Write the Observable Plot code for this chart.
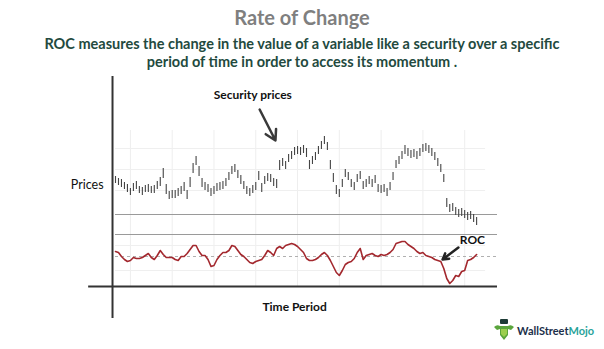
<!DOCTYPE html>
<html>
<head>
<meta charset="utf-8">
<script src="https://cdn.jsdelivr.net/npm/d3@7"></script>
<script src="https://cdn.jsdelivr.net/npm/@observablehq/plot@0.6"></script>
<style>
  html, body { margin: 0; padding: 0; background: #fff; }
  body { width: 604px; height: 349px; position: relative; overflow: hidden; font-family: Lato, "Open Sans", sans-serif; }
  #title { position: absolute; left: 0; width: 604px; top: 3px; text-align: center; font-size: 20px; font-weight: 700; color: #7f7f7f; line-height: 28px; }
  #subtitle { position: absolute; left: 0; width: 604px; top: 35px; text-align: center; font-size: 14.5px; font-weight: 700; color: #234a3e; line-height: 18px; }
  .layer { position: absolute; left: 0; top: 72px; }
  #logo { position: absolute; left: 492px; top: 318px; height: 24px; display: flex; align-items: center; font-weight: 700; font-size: 11px; }
</style>
</head>
<body>
<div id="title">Rate of Change</div>
<div id="subtitle">ROC measures the change in the value of a variable like a security over a specific<br>period of time in order to access its momentum .</div>
<div id="chartA" class="layer"></div>
<div id="chartB" class="layer"></div>
<div id="logo">
  <svg width="24" height="24" viewBox="0 0 24 24">
    <rect x="8" y="1" width="8" height="5" rx="1" fill="#1d3b36"/>
    <path d="M2 9 Q5 6 8 8 L16 8 Q19 6 22 9 L19 12 L16 11 L16 17 L12 22 L8 17 L8 11 L5 12 Z" fill="#5aa53c"/>
    <path d="M9 11 L15 11 L15 16 L12 19 L9 16 Z" fill="#9ccf4e"/>
  </svg>
  <span style="margin-left:1px;color:#1c2f4a">WallStreet</span><span style="color:#2aa39a">Mojo</span>
</div>
<script>
// ---- data ----
const priceHigh = [49,48,47.5,46,45,43,45.5,46.5,44,43.5,44.5,45,44,44.5,46.5,48.5,53,45,41.5,42,42,43,44,46,42,48.5,55.5,59,54,48,46,45,43,44,45.5,46,46.5,48,51,54,55,52,49.5,46.5,44,43,44.5,46,51.5,45.5,49,50.5,50,48,47.5,57,58,56.5,60,61.5,63.5,64,63.5,64.5,63,57,59,61,64,66.5,69,66,57,50.5,44.5,42.5,47.5,52.5,51,47.5,46,50,51.5,46.5,47.5,49,47.5,49.5,45,44.5,45,43,46,51,57,59,61.5,64.5,63,62,62.5,61.5,63,65,65.5,64.5,63,61,58,55,50,38,35,35.5,33.5,32.5,33,32,31,31.5,30,28.5];
const priceLow  = [45.5,44.5,43.5,42.5,41,39.5,41.5,42.5,40.5,39.5,41,41,40.5,40.5,42.5,44,48,40,37.5,38,38,39,40,41.5,37.5,43.5,50.5,54.5,49,43.5,42,41,39,40,41.5,42,42.5,44,47,50,51,48,45,42.5,40,39,40.5,42,47,41,45,46.5,46,44,43,52,54,52.5,56,57.5,59.5,60,59.5,60.5,58.5,52.5,55,57,60,62.5,65,62,52.5,46,40,38.5,43.5,48.5,47,43.5,42,46,47.5,42.5,43.5,45,43.5,45.5,41,40.5,41,39,42,47,53,55,57.5,60,59,58,58.5,57.5,59,61,61.5,60.5,59,57,54,51,46,33.5,31,31.5,29.5,28.5,29,28,27,27.5,26,24.5];
const rocValues = [2.5,2,0,-1.5,-2.5,-2,-0.5,-1,-1,-0.5,0.5,1.5,-0.5,-1.5,0.5,3,1,-0.5,-0.5,-0.5,-1.5,-2,0,0,1.5,3.5,5.5,5.5,2.5,0.5,0.5,-1.5,-5,-4.5,-1.5,0.5,2,2,3,5.5,5,3,1,0,-1.5,-3,-3.5,-2.5,-2,-1.5,0.5,3,2,0.5,4,5,4,5.5,6,6.5,6,5,3.5,2,-1,-2,-2,-1.5,-0.5,1,2,0.5,-2,-5,-8,-9.5,-7,-4,-3,-2.5,-1,2,4,-1.5,0.5,1,1.5,0.5,0,1,0.5,1,2,3.5,6.5,7,7.5,7.5,6,5,4,2.5,1.5,2,0.5,0,-0.5,-1.5,-2,-2.5,-6,-11,-13.5,-12,-9.5,-10,-7.5,-7,-2,-1.5,-0.5,1];
const gridX = [5,19,33,47,61,75,89,103,117];
const priceGrid = [42,52.5,63];
const priceLevels = [30,20];
const rocGrid = [5.5,-7];
const rocZero = [0];
const boldLabelsA = [{x: 46, y: 89.5, text: "Security prices"}];
const axisLabelsA = [{x: -4, y: 45, text: "Prices"}];
const arrowsA = [{x1: 48.3, y1: 82.5, x2: 53.6, y2: 67}];
const labelsB = [
  {x: 119.6, y: 8, text: "ROC"},
  {x: 60, y: -25.5, text: "Time Period"}
];
const arrowsB = [{x1: 114.9, y1: 4.5, x2: 109.6, y2: -1.5}];

const bars = priceHigh.map((h, i) => ({i, high: h, low: priceLow[i]}));

const common = {
  width: 604, height: 277, marginLeft: 115, marginRight: 107,
  x: {domain: [0, 128], axis: null},
  style: {background: "transparent", overflow: "visible", fontFamily: "Lato, sans-serif"}
};

const chartA = Plot.plot({
  ...common,
  marginTop: 58, marginBottom: 115,
  y: {domain: [20, 72], axis: null},
  marks: [
    Plot.ruleX(gridX, {y1: -6, y2: 72, stroke: "#eeeeee", strokeWidth: 1}),
    Plot.ruleY(priceGrid, {x1: 0, x2: 124, stroke: "#efefef", strokeWidth: 1}),
    Plot.ruleY(priceLevels, {x1: 0, x2: 128, stroke: "#9a9a9a", strokeWidth: 1.2}),
    Plot.ruleX(bars, {x: "i", y1: "low", y2: "high", stroke: "#444", strokeWidth: 1.1}),
    Plot.arrow(arrowsA, {x1: "x1", y1: "y1", x2: "x2", y2: "y2", stroke: "#3a3a3a", strokeWidth: 2.5, headLength: 9}),
    Plot.text(boldLabelsA, {x: "x", y: "y", text: "text", fontWeight: 700, textAnchor: "middle", fontSize: 12, fill: "#111"}),
    Plot.text(axisLabelsA, {x: "x", y: "y", text: "text", fontWeight: 400, textAnchor: "end", fontSize: 12.5, fill: "#111"})
  ]
});
document.getElementById("chartA").appendChild(chartA);

const chartB = Plot.plot({
  ...common,
  marginTop: 162, marginBottom: 63,
  y: {domain: [-15, 11], axis: null},
  marks: [
    Plot.ruleY(rocGrid, {x1: 0, x2: 124, stroke: "#efefef", strokeWidth: 1}),
    Plot.ruleY(rocZero, {x1: 0, x2: 128, stroke: "#b0b0b0", strokeWidth: 1, strokeDasharray: "3,3"}),
    Plot.lineY(rocValues, {stroke: "#a3282e", strokeWidth: 1.6}),
    Plot.ruleX([-1], {y1: -31, y2: 90, stroke: "#333", strokeWidth: 2}),
    Plot.ruleY([-15], {x1: -9, x2: 128, stroke: "#333", strokeWidth: 2}),
    Plot.arrow(arrowsB, {x1: "x1", y1: "y1", x2: "x2", y2: "y2", stroke: "#222", strokeWidth: 2.5, headLength: 8}),
    Plot.text(labelsB, {x: "x", y: "y", text: "text", fontWeight: 700, fontSize: 12, fill: "#111"})
  ]
});
document.getElementById("chartB").appendChild(chartB);
</script>
</body>
</html>
